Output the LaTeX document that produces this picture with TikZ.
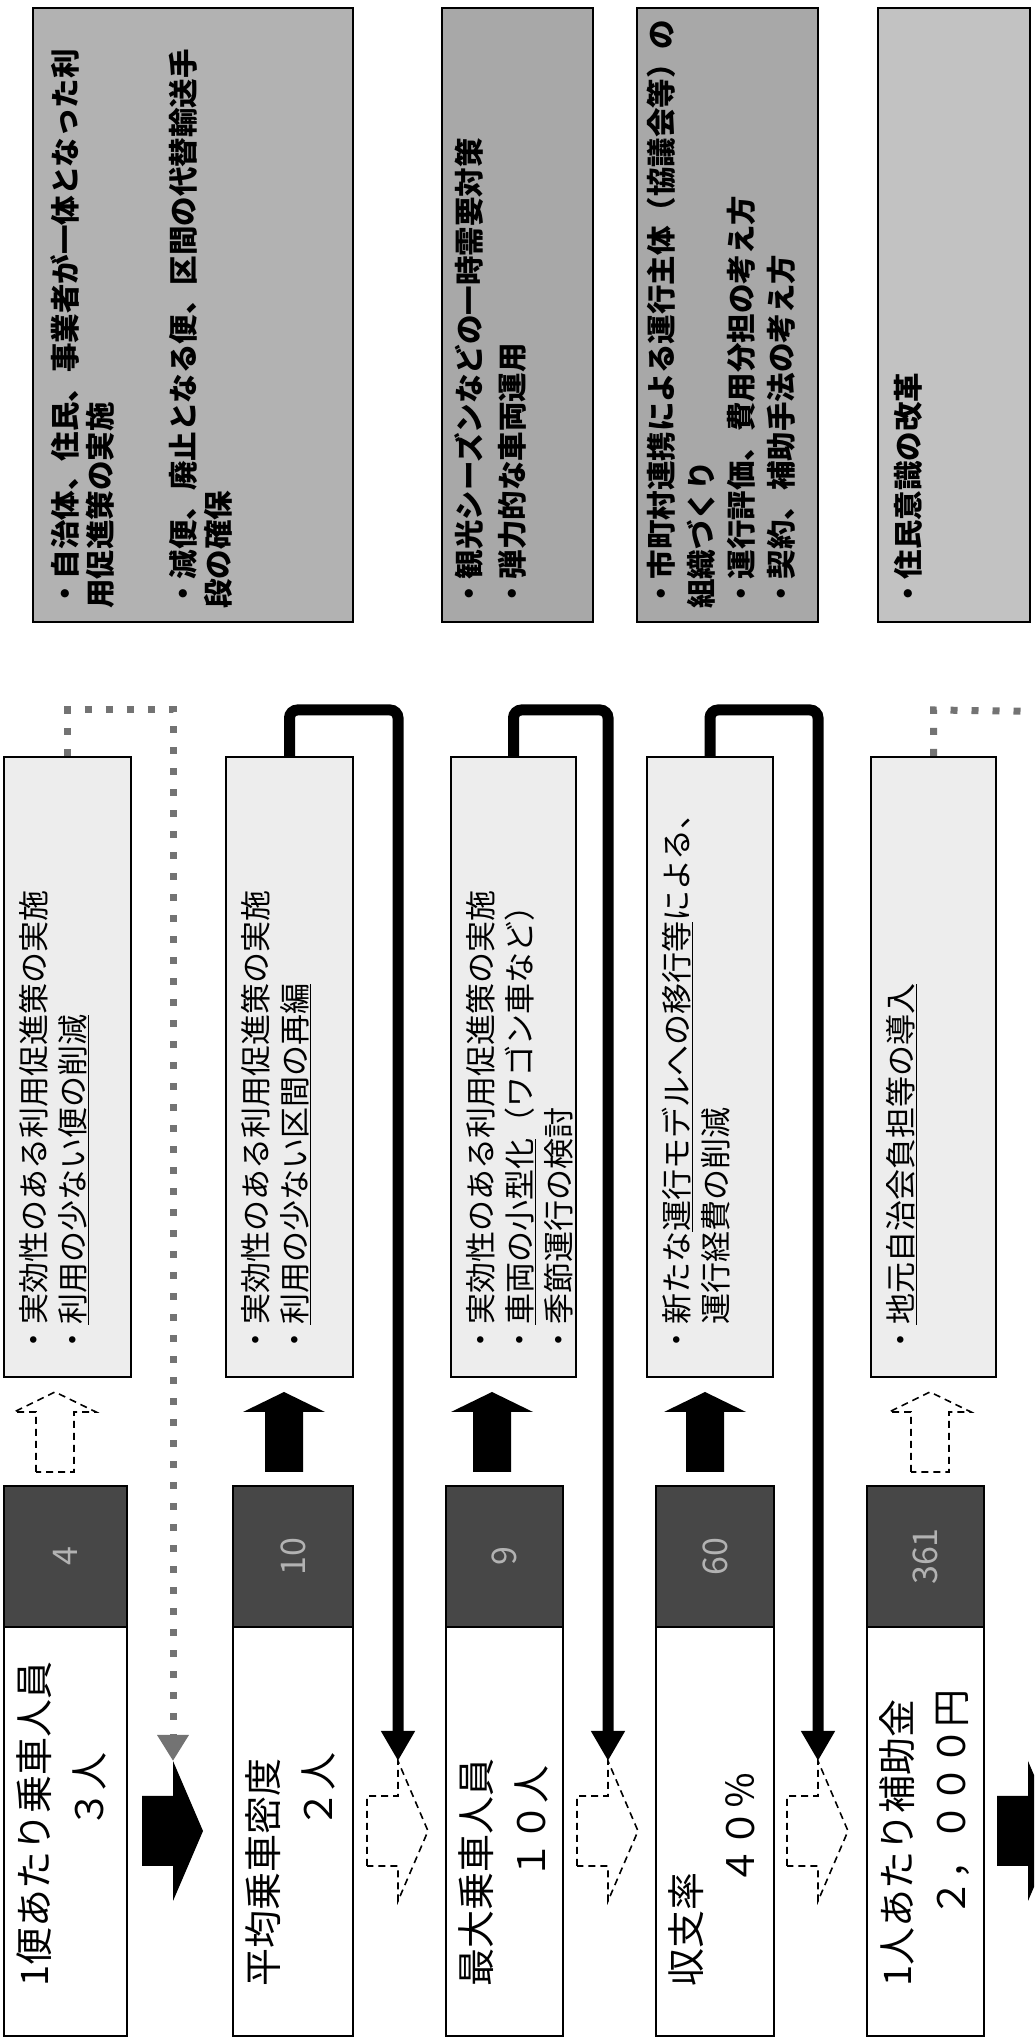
\documentclass[tikz,border=0pt]{standalone}
\usepackage{fontspec}
\setmainfont{Noto Sans CJK JP}
\usetikzlibrary{arrows.meta}

\tikzset{
  every node/.style={inner sep=0pt},
  lblbox/.style={draw,line width=2pt,fill=white,anchor=north west,minimum width=409pt},
  valbox/.style={draw,line width=2pt,fill=black!72,anchor=north west,minimum width=141pt,
    text=black!30,font=\fontsize{34}{34}\selectfont},
  txtbox/.style={draw,line width=2pt,fill=black!7,anchor=north west,minimum width=620pt},
  noteframe/.style={draw,line width=2.5pt,fill=black!30},
  lbltext/.style={anchor=north west,font=\fontsize{38}{38}\selectfont},
  txttext/.style={anchor=north west,align=left,font=\fontsize{31}{39}\selectfont},
  notetext/.style={anchor=north west,align=left,font=\fontsize{29.5}{35}\selectfont\bfseries},
  dsh/.style={draw,line width=1.6pt,dash pattern=on 7pt off 5pt},
  bracket/.style={line width=11pt,rounded corners=8pt,-{Triangle[length=30pt,width=32pt]}},
  dotline/.style={line width=7pt,black!55,dash pattern=on 7pt off 14pt},
  rarrow/.pic={\path[pic actions] (0,19) -- (60,19) -- (60,41) -- (80,0) -- (60,-41) -- (60,-19) -- (0,-19) -- cycle;},
  darrow/.pic={\path[pic actions] (-35,0) -- (35,0) -- (35,-31) -- (70,-31) -- (0,-61) -- (-70,-31) -- (-35,-31) -- cycle;
    \coordinate (-hr) at (70,-31);}
}

\begin{document}
\begin{tikzpicture}[x=1pt,y=1pt,rotate=90,transform shape]
\useasboundingbox (0,-1034) rectangle (2041,0);
\clip (0,-1034) rectangle (2041,0);

% row 1
\node[lblbox,minimum height=123pt] (lbl1) at (4,-3) {};
\node[valbox,minimum height=123pt] (val1) at (413,-3) {4};
\node[txtbox,minimum height=127pt] (txt1) at (663,-3) {};
\node[lbltext] (lbl1t) at (54,-16) {1便あたり乗車人員};
\node[lbltext] (lbl1v) at (212,-73) {３人};
\node[txttext] (txt1t) at (685,-19) {・実効性のある利用促進策の実施\\・\underline{利用の少ない便の削減}};
\pic[dsh] at (569,-55) {rarrow};

% row 2
\node[lblbox,minimum height=120pt] (lbl2) at (4,-232) {};
\node[valbox,minimum height=120pt] (val2) at (413,-232) {10};
\node[txtbox,minimum height=127pt] (txt2) at (663,-225) {};
\node[lbltext] (lbl2t) at (54,-245) {平均乗車密度};
\node[lbltext] (lbl2v) at (212,-302) {２人};
\node[txttext] (txt2t) at (685,-241) {・実効性のある利用促進策の実施\\・\underline{利用の少ない区間の再編}};
\pic[fill=black] at (569,-284) {rarrow};

% row 3
\node[lblbox,minimum height=117pt] (lbl3) at (4,-445) {};
\node[valbox,minimum height=117pt] (val3) at (413,-445) {9};
\node[txtbox,minimum height=125pt] (txt3) at (663,-450) {};
\node[lbltext] (lbl3t) at (54,-458) {最大乗車人員};
\node[lbltext] (lbl3v) at (161,-515) {１０人};
\node[txttext] (txt3t) at (685,-466) {・実効性のある利用促進策の実施\\・\underline{車両の小型化}（ワゴン車など）\\・季節運行の検討};
\pic[fill=black] at (569,-492) {rarrow};

% row 4
\node[lblbox,minimum height=118pt] (lbl4) at (4,-655) {};
\node[valbox,minimum height=118pt] (val4) at (413,-655) {60};
\node[txtbox,minimum height=126pt] (txt4) at (663,-646) {};
\node[lbltext] (lbl4t) at (54,-668) {収支率};
\node[lbltext] (lbl4v) at (155,-725) {４０％};
\node[txttext] (txt4t) at (685,-662) {・新たな\underline{運行モデルへの移行等}による、\\　運行経費の削減};
\pic[fill=black] at (569,-705) {rarrow};

% row 5
\node[lblbox,minimum height=117pt] (lbl5) at (4,-866) {};
\node[valbox,minimum height=117pt] (val5) at (413,-866) {361};
\node[txtbox,minimum height=125pt] (txt5) at (663,-870) {};
\node[lbltext] (lbl5t) at (54,-879) {1人あたり補助金};
\node[lbltext] (lbl5v) at (123,-936) {２，０００円};
\node[txttext] (txt5t) at (685,-886) {・\underline{地元自治会負担等の導入}};
\pic[dsh] at (569,-930) {rarrow};

% notes on the right
\draw[noteframe] (1419,-33) rectangle (2033,-353);
\node[notetext] (note1t) at (1432,-50) {・自治体、住民、事業者が一体となった利\\用促進策の実施\\[48pt]・減便、廃止となる便、区間の代替輸送手\\段の確保};
\draw[noteframe,fill=black!34] (1419,-442) rectangle (2033,-593);
\node[notetext,font=\fontsize{29.5}{43}\selectfont\bfseries] (note2t) at (1432,-454) {・観光シーズンなどの一時需要対策\\・弾力的な車両運用};
\draw[noteframe,fill=black!34] (1419,-637) rectangle (2033,-818);
\node[notetext,font=\fontsize{29.5}{40}\selectfont\bfseries] (note3t) at (1432,-647) {・市町村連携による運行主体（協議会等）の\\組織づくり\\・運行評価、費用分担の考え方\\・契約、補助手法の考え方};
\draw[noteframe,fill=black!24] (1419,-878) rectangle (2033,-1030);
\node[notetext] (note4t) at (1432,-894) {・住民意識の改革};

% arrows between the rows
\pic[fill=black] (d12) at (210,-142) {darrow};
\pic[dsh] (d23) at (210,-367) {darrow};
\pic[dsh] (d34) at (210,-577) {darrow};
\pic[dsh] (d45) at (210,-787) {darrow};
\pic[fill=black] (d56) at (210,-997) {darrow};

% feedback lines
\draw[dotline,-{Triangle[length=26pt,width=30pt]}] (txt1.east) -- ++(46,0) |- (d12-hr);
\draw[bracket] (txt2.east) -- ++(46,0) |- (d23-hr);
\draw[bracket] (txt3.east) -- ++(46,0) |- (d34-hr);
\draw[bracket] (txt4.east) -- ++(46,0) |- (d45-hr);
\coordinate (out5) at (1329,-1080);
\draw[dotline] (txt5.east) -- ++(46,0) -- (out5);
\end{tikzpicture}
\end{document}
